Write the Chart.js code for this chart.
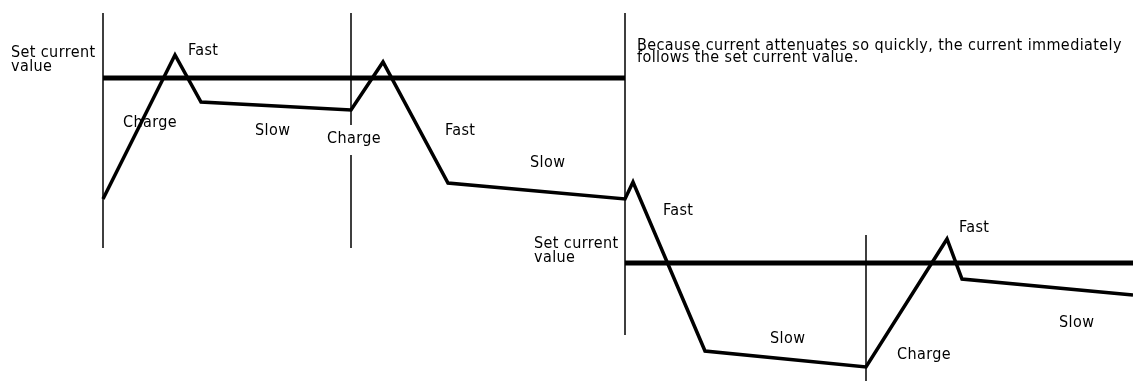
<!DOCTYPE html>
<html>
<head>
<meta charset="utf-8">
<script src="https://cdn.jsdelivr.net/npm/chart.js@4"></script>
<style>
    html, body { margin: 0; padding: 0; background: #fff; }
    #wrap { width: 1133px; height: 381px; }
</style>
</head>
<body>
<div id="wrap"><canvas id="currentChart" width="1133" height="381"></canvas></div>
<script>
// 時間軸 (t) 與電流 (i) 的數值
const waveT = [103, 175, 201, 351, 383, 448, 625, 633, 705, 866, 947, 962, 1133];
const waveI = [182, 326, 279, 271, 319, 198, 182, 199, 30, 14, 142, 102, 86];

// 設定電流值 (兩段)
const setT1 = [103, 625];
const setI1 = [303, 303];
const setT2 = [625, 1133];
const setI2 = [118, 118];

// 垂直分隔線: 位置與上下端
const markerT = [103, 351, 625, 866];
const markerTop = [368, 368, 368, 146];
const markerBottom = [133, 133, 46, 0];

// 標籤文字與位置 (基線)
const labelText = [
    'Set current\nvalue', 'Fast', 'Charge', 'Slow', 'Charge', 'Fast', 'Slow',
    'Because current attenuates so quickly, the current immediately\nfollows the set current value.',
    'Set current\nvalue', 'Fast', 'Slow', 'Fast', 'Charge', 'Slow'
];
const labelT = [11, 188, 123, 255, 327, 445, 530, 637, 534, 663, 770, 959, 897, 1059];
const labelI = [324, 326, 254, 246, 238, 246, 214, 331, 133, 166, 38, 149, 22, 54];
const labelMasked = [false, false, false, false, true, false, false, false, false, false, false, false, false, false];

class DiagramAgent {
    constructor() {
        this.font = "16px 'DejaVu Sans Condensed', 'DejaVu Sans', sans-serif";
        this.init();
    }

    init() {
        const ctx = document.getElementById('currentChart');
        if (!ctx) return;
        this.chart = new Chart(ctx, {
            type: 'line',
            data: { datasets: this.buildDatasets() },
            options: {
                responsive: false,
                animation: false,
                layout: { padding: 0 },
                plugins: {
                    legend: { display: false },
                    tooltip: { enabled: false }
                },
                elements: { point: { radius: 0 } },
                scales: {
                    x: { type: 'linear', min: 0, max: 1133, display: false },
                    y: { type: 'linear', min: 0, max: 381, display: false }
                }
            },
            plugins: [this.labelPlugin()]
        });
    }

    toPoints(ts, is) {
        return ts.map((t, k) => ({ x: t, y: is[k] }));
    }

    buildDatasets() {
        const sets = [];
        markerT.forEach((t, k) => {
            sets.push({
                data: [{ x: t, y: markerTop[k] }, { x: t, y: markerBottom[k] }],
                borderColor: '#000',
                borderWidth: 1.5,
                clip: false
            });
        });
        sets.push({ data: this.toPoints(setT1, setI1), borderColor: '#000', borderWidth: 5, clip: false });
        sets.push({ data: this.toPoints(setT2, setI2), borderColor: '#000', borderWidth: 5, clip: false });
        sets.push({
            data: this.toPoints(waveT, waveI),
            borderColor: '#000',
            borderWidth: 3.5,
            borderJoinStyle: 'miter',
            tension: 0,
            clip: false
        });
        return sets;
    }

    labelPlugin() {
        const font = this.font;
        return {
            id: 'diagramLabels',
            afterDatasetsDraw(chart) {
                const { ctx, scales: { x, y } } = chart;
                ctx.save();
                ctx.font = font;
                ctx.letterSpacing = '0.4px';
                ctx.textBaseline = 'alphabetic';
                labelText.forEach((text, idx) => {
                    const px = x.getPixelForValue(labelT[idx]);
                    const py = y.getPixelForValue(labelI[idx]);
                    const lines = text.split('\n');
                    // 長註解行距較緊
                    const gap = lines[0].length > 20 ? 12 : 14;
                    if (labelMasked[idx]) {
                        const w = Math.max(...lines.map(l => ctx.measureText(l).width));
                        ctx.fillStyle = '#fff';
                        ctx.fillRect(px - 2, py - 18, w + 4, 30 + (lines.length - 1) * gap);
                    }
                    ctx.fillStyle = '#000';
                    lines.forEach((line, k) => ctx.fillText(line, px, py + k * gap));
                });
                ctx.restore();
            }
        };
    }
}

new DiagramAgent();
</script>
</body>
</html>
